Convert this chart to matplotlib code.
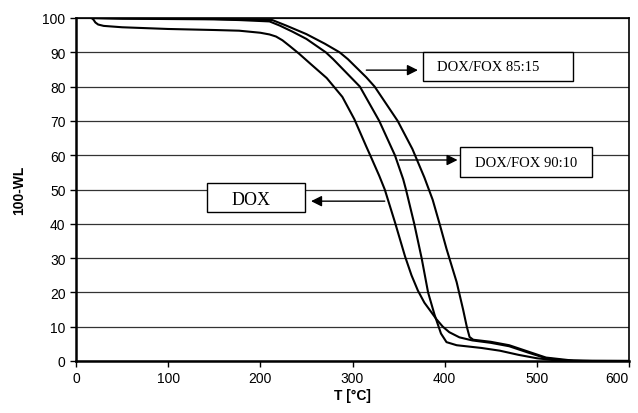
import matplotlib
matplotlib.use("Agg")
import matplotlib.pyplot as plt
from matplotlib.patches import Rectangle

# Data
T_dox = [17, 19, 21, 24, 30, 50, 100, 150, 177, 200, 210, 217, 224, 232, 242, 255, 272, 289, 302, 315,
         320, 329, 335, 346, 357, 364, 371, 378, 384, 391, 398, 405, 416, 430, 450, 470, 490, 510, 530,
         560, 600, 620]
v_dox = [100, 99.5, 98.7, 98.1, 97.7, 97.3, 96.8, 96.5, 96.3, 95.7, 95.2, 94.6, 93.5, 91.8, 89.6, 86.5,
         82.5, 77, 70.5, 62.5, 59.5, 54, 50, 40.5, 30.5, 25, 20.5, 17, 14.8, 12.2, 10, 8.4, 6.9, 6.0,
         5.3, 4.3, 2.5, 0.8, 0.2, 0, 0, 0]

T_9010 = [17, 50, 100, 150, 177, 210, 221, 235, 250, 271, 279, 308, 329, 346, 355, 358, 367, 375, 382,
          389, 396, 402, 413, 440, 460, 480, 500, 520, 550, 620]
v_9010 = [100, 99.8, 99.7, 99.6, 99.4, 99, 97.8, 96, 93.9, 90, 88, 80, 70, 60, 53, 50, 40, 30, 20,
          13.5, 8, 5.5, 4.6, 3.8, 3, 1.8, 0.8, 0.2, 0, 0]

T_8515 = [17, 50, 100, 150, 213, 228, 250, 270, 286, 295, 315, 324, 349, 365, 378, 387, 395, 402, 413,
          420, 424, 427, 431, 450, 470, 490, 510, 540, 620]
v_8515 = [100, 99.9, 99.8, 99.7, 99.4, 97.8, 95.3, 92.5, 90, 88, 82.7, 80, 70, 61.8, 53.5, 47, 39.5,
          32.7, 23, 15, 10, 7, 6.2, 5.6, 4.6, 2.8, 1, 0.1, 0]

x_ticks = [0, 100, 200, 300, 400, 500, 600]
y_ticks = [0, 10, 20, 30, 40, 50, 60, 70, 80, 90, 100]

plt.rcParams['font.family'] = ['Liberation Sans', 'DejaVu Sans']

fig = plt.figure(figsize=(6.38, 4.14), dpi=100)
ax = fig.add_axes([76/638, 1-362/414, (629-76)/638, (362-19)/414])

for T, v in [(T_dox, v_dox), (T_9010, v_9010), (T_8515, v_8515)]:
    ax.plot(T, v, color='black', lw=1.5, zorder=3, solid_joinstyle='round')

ax.set_xlim(0, 600)
ax.set_ylim(0, 100)
ax.set_xticks(x_ticks)
ax.set_yticks(y_ticks)
ax.tick_params(direction='out', length=4, width=1, labelsize=10, colors='black')
labels = ax.get_xticklabels()
labels[-1].set_horizontalalignment('right')
ax.yaxis.grid(True, color='#333333', lw=0.9, zorder=0)
ax.set_axisbelow(True)
for s in ['left', 'bottom']:
    ax.spines[s].set_linewidth(1.8)
for s in ['top', 'right']:
    ax.spines[s].set_linewidth(1.2)

ax.set_xlabel('T [°C]', fontsize=10, fontweight='bold', labelpad=2)
ax.set_ylabel('100-WL', fontsize=10, fontweight='bold', labelpad=12)

serif = ['Liberation Serif', 'DejaVu Serif']
boxes = [
    ((376, 81.6), 163, 8.5, 'DOX/FOX 85:15', 10.5, (447, 85.8)),
    ((417, 53.6), 143, 8.8, 'DOX/FOX 90:10', 10.5, (488, 58.0)),
    ((142, 43.4), 107, 8.5, 'DOX', 13, (190, 47.2)),
]
for (x0, y0), w, h, txt, fs, (tx, ty) in boxes:
    ax.add_patch(Rectangle((x0, y0), w, h, facecolor='white', edgecolor='black', lw=1.0, zorder=4))
    ax.text(tx, ty, txt, family=serif, fontsize=fs, ha='center', va='center', zorder=5)

arrows = [((315, 84.8), (371, 84.8)), ((351, 58.6), (414, 58.6)), ((335, 46.6), (255, 46.6))]
for (x1, y1), (x2, y2) in arrows:
    ax.annotate('', xy=(x2, y2), xytext=(x1, y1),
                arrowprops=dict(arrowstyle='-|>', mutation_scale=16, lw=1.0, color='black',
                                shrinkA=0, shrinkB=0), zorder=5)

fig.savefig('out.png', dpi=100)
